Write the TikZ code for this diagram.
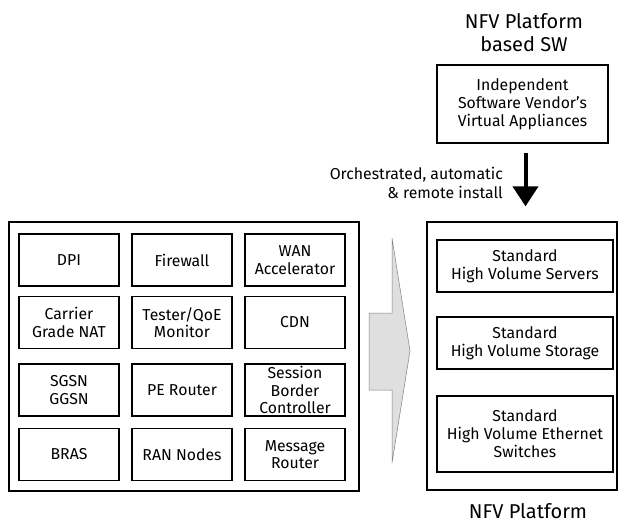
\documentclass[tikz,border=0pt]{standalone}
\usepackage{fontspec}
\setmainfont{Fira Sans}
\usetikzlibrary{arrows.meta}
\begin{document}
\begin{tikzpicture}[x=1pt,y=-1pt,%
% common options for the function boxes:
fbox/.style = {draw, line width=1.1pt, align=center, font=\fontsize{15.8}{17.5}\selectfont,
            minimum width=100pt, minimum height=52pt, inner sep=0},
% common options for the hardware boxes:
hwbox/.style = {draw, line width=1.1pt, align=center, font=\fontsize{15.8}{18}\selectfont,
            minimum width=176pt, inner sep=0},
% common options for the frames and titles:
frame/.style = {draw, line width=1.3pt, inner sep=0},
title/.style = {align=center, font=\fontsize{20}{23}\selectfont, inner sep=0}]
\useasboundingbox (0,0) rectangle (618,524);
% left: classical appliances
\node[frame, minimum width=350pt, minimum height=269pt] (legacy) at (184,356.5) {};
\node[fbox] (dpi) at (69,260) {DPI};
\node[fbox] (fw) at (182,260) {Firewall};
\node[fbox] (wan) at (295,260) {WAN\\Accelerator};
\node[fbox] (nat) at (69,322.5) {Carrier\\Grade NAT};
\node[fbox] (qoe) at (182,322.5) {Tester/QoE\\Monitor};
\node[fbox] (cdn) at (295,322.5) {CDN};
\node[fbox] (sgsn) at (69,390) {SGSN\\GGSN};
\node[fbox] (pe) at (182,390) {PE Router};
\node[fbox] (sbc) at (295,390) {Session\\Border\\Controller};
\node[fbox] (bras) at (69,454.5) {BRAS};
\node[fbox] (ran) at (182,454.5) {RAN Nodes};
\node[fbox] (msg) at (295,454.5) {Message\\Router};
% big transition arrow
\draw[gray, line width=0.5pt, fill=gray!25] (369,313) -- (392,313) -- (392,238) -- (410,351)
    -- (392,463) -- (392,390) -- (369,390) -- cycle;
% right: NFV platform
\node[frame, minimum width=190pt, minimum height=268pt] (platform) at (522,356) {};
\node[hwbox, minimum height=52pt] (servers) at (525,266) {Standard\\High Volume Servers};
\node[hwbox, minimum height=52pt] (storage) at (525,343) {Standard\\High Volume Storage};
\node[hwbox, minimum height=76pt] (switches) at (525,434) {Standard\\High Volume Ethernet\\Switches};
\node[title] (nfvp) at (528,511) {NFV Platform};
% top: software
\node[title] (nfvsw) at (524,33) {NFV Platform\\based SW};
\node[frame, line width=1.1pt, align=center, font=\fontsize{15.8}{18}\selectfont,
    minimum width=171pt, minimum height=78pt] (isv) at (522.5,104)
    {Independent\\Software Vendor’s\\Virtual Appliances};
\draw[-{Triangle[width=25pt,length=20pt]}, line width=4pt, shorten <=9pt, shorten >=15pt]
    (isv.south -| platform.north) ++(3.5,0) coordinate (a0) (a0) -- (a0 |- platform.north);
\node[align=right, anchor=east, font=\fontsize{15.8}{19}\selectfont, inner sep=0] (install)
    at (503,183) {Orchestrated, automatic\\\& remote install};
\end{tikzpicture}
\end{document}
